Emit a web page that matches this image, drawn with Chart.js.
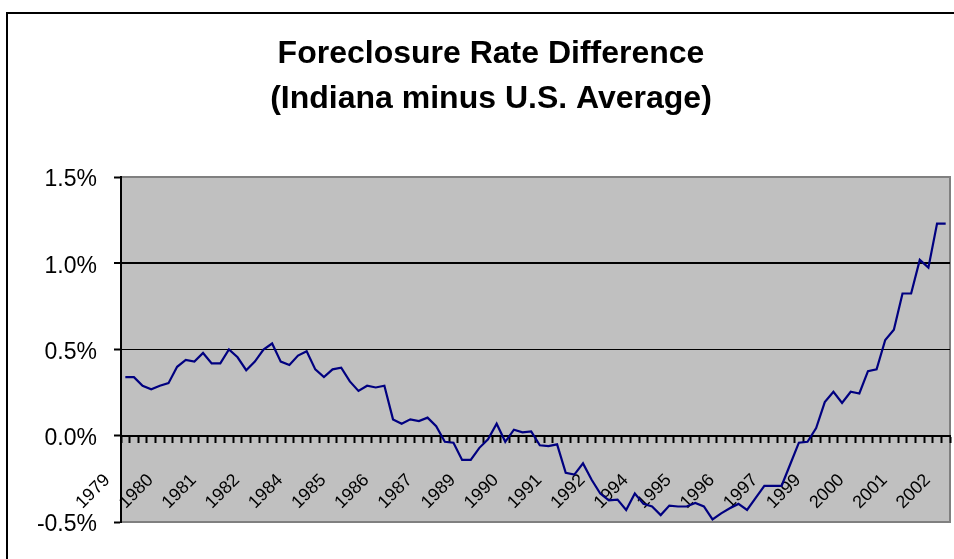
<!DOCTYPE html>
<html>
<head>
<meta charset="utf-8">
<script src="https://cdn.jsdelivr.net/npm/chart.js"></script>
<style>
  body { margin: 0; background: #fff; overflow: hidden; }
  #frame { position: absolute; left: 6px; top: 12px; border: 2px solid #000; width: 1000px; height: 560px; }
  canvas { display: block; }
</style>
</head>
<body>
<div id="frame"><canvas id="chart_foreclosure" width="1000" height="560"></canvas></div>
<script>
// quarterly, 1979 Q1 .. 2002 Q4
const years = [1979, 1980, 1981, 1982, 1983, 1984, 1985, 1986, 1987, 1988, 1989, 1990,
               1991, 1992, 1993, 1994, 1995, 1996, 1997, 1998, 1999, 2000, 2001, 2002];

// Indiana minus U.S. foreclosure rate, in percent
const rate_diff = [
   0.34,  0.34,  0.29,  0.27,  0.29,  0.305, 0.40,  0.44,  0.43,  0.48,  0.42,  0.42,
   0.50,  0.455, 0.38,  0.43,  0.50,  0.535, 0.43,  0.41,  0.465, 0.49,  0.385, 0.34,
   0.385, 0.395, 0.315, 0.26,  0.29,  0.28,  0.29,  0.095, 0.07,  0.095, 0.085, 0.105,
   0.055,-0.035,-0.04, -0.14, -0.14, -0.07, -0.02,  0.07, -0.035, 0.035, 0.02,  0.025,
  -0.055,-0.06, -0.05, -0.215,-0.225,-0.16, -0.255,-0.335,-0.375,-0.37, -0.43, -0.335,
  -0.395,-0.41, -0.46, -0.405,-0.41, -0.41, -0.39, -0.41, -0.485,-0.45, -0.42, -0.395,
  -0.43, -0.36, -0.29, -0.29, -0.29, -0.165,-0.04, -0.035, 0.045, 0.195, 0.255, 0.19,
   0.255, 0.245, 0.375, 0.385, 0.555, 0.615, 0.825, 0.825, 1.02,  0.975, 1.23,  1.23
];

const y_min = -0.5;
const y_max = 1.5;
const y_step = 0.5;

const labels = [];
years.forEach(function(y) { for (let q = 0; q < 4; q++) labels.push(String(y)); });

const fontFamily = "'Liberation Sans', Arial, sans-serif";

const plotBackground = {
  id: 'plotBackground',
  beforeDraw(chart) {
    const ctx = chart.ctx;
    const a = chart.chartArea;
    ctx.save();
    ctx.fillStyle = '#c0c0c0';
    ctx.fillRect(a.left, a.top, a.right - a.left, a.bottom - a.top);
    ctx.strokeStyle = '#808080';
    ctx.lineWidth = 2;
    ctx.beginPath();
    ctx.moveTo(a.left, a.top);
    ctx.lineTo(a.right, a.top);
    ctx.lineTo(a.right, a.bottom);
    ctx.lineTo(a.left, a.bottom);
    ctx.stroke();
    ctx.restore();
  }
};

const chart_foreclosure = new Chart("chart_foreclosure", {
  type: "line",
  data: {
    labels: labels,
    datasets: [{
      data: rate_diff,
      borderColor: "#000080",
      borderWidth: 2.2,
      pointRadius: 0,
      tension: 0,
      fill: false
    }]
  },
  options: {
    responsive: false,
    animation: false,
    layout: { padding: { left: 24, right: 58, top: 0, bottom: 52 } },
    plugins: {
      legend: { display: false },
      tooltip: { enabled: false },
      title: {
        display: true,
        text: ["Foreclosure Rate Difference", "(Indiana minus U.S. Average)"],
        color: "#000",
        font: { family: fontFamily, size: 32, weight: "bold", lineHeight: 1.42 },
        padding: { top: 17.5, bottom: 54.7 }
      }
    },
    scales: {
      x: {
        type: "category",
        position: { y: 0 },
        offset: true,
        grid: {
          offset: true,
          drawOnChartArea: false,
          drawTicks: true,
          tickLength: 6,
          tickWidth: 2,
          tickColor: "#000"
        },
        border: { display: true, color: "#000", width: 2 },
        ticks: {
          autoSkip: false,
          minRotation: 45,
          maxRotation: 45,
          labelOffset: -18,
          padding: 28,
          color: "#000",
          font: { family: fontFamily, size: 18 },
          callback: function(val, index) {
            return index % 5 === 0 ? this.getLabelForValue(val) : "";
          }
        }
      },
      y: {
        min: y_min,
        max: y_max,
        afterFit: function(scale) { scale.width = 89; },
        grid: {
          color: function(c) {
            const v = c.tick ? c.tick.value : null;
            return (v === y_min || v === y_max || v === 0) ? "rgba(0,0,0,0)" : "#000";
          },
          lineWidth: function(c) {
            return c.tick && c.tick.value === 1 ? 2 : 1;
          },
          tickColor: "#000",
          tickLength: 7,
          tickWidth: 2
        },
        border: { display: true, color: "#000", width: 2 },
        ticks: {
          stepSize: y_step,
          padding: 17,
          labelOffset: 3,
          color: "#000",
          font: { family: fontFamily, size: 23 },
          callback: function(v) { return v.toFixed(1) + "%"; }
        }
      }
    }
  },
  plugins: [plotBackground]
});
</script>
</body>
</html>
